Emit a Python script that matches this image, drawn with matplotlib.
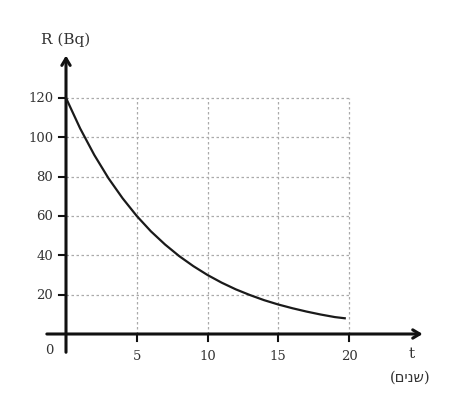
import matplotlib.pyplot as plt
import numpy as np

# valores (decaimento, meia-vida ~5 anos)
t_anos = [0, 1, 2, 3, 4, 5, 6, 7, 8, 9, 10, 11, 12, 13, 14, 15, 16, 17, 18, 19, 19.7]
R_bq = [120, 104.5, 91, 79.2, 69, 60, 52.2, 45.5, 39.6, 34.5, 30, 26.1, 22.7, 19.8,
        17.2, 15, 13.1, 11.4, 9.9, 8.6, 8.0]

x_ticks = [5, 10, 15, 20]
y_ticks = [20, 40, 60, 80, 100, 120]

fonte = ['DejaVu Serif', 'DejaVu Sans']
cor_txt = '#333333'

fig = plt.figure(figsize=(4.64, 4.14), dpi=100)
ax = fig.add_axes([0, 0, 1, 1])
px_x = 14.15   # pixels por ano
px_y = 1.967   # pixels por Bq
ax.set_xlim(-66 / px_x, (464 - 66) / px_x)
ax.set_ylim(-(414 - 335) / px_y, 335 / px_y)
ax.axis('off')

# grade pontilhada
for xv in x_ticks:
    ax.plot([xv, xv], [0, 120], color='#aaaaaa', lw=0.9, ls=(0, (2, 2)), zorder=1)
for yv in y_ticks:
    ax.plot([0, 20], [yv, yv], color='#aaaaaa', lw=0.9, ls=(0, (2, 2)), zorder=1)

# eixos com setas
ax.annotate('', xy=(25.4, 0), xytext=(-1.55, 0),
            arrowprops=dict(arrowstyle='->,head_length=0.5,head_width=0.3', lw=2.2, color='#111111'))
ax.annotate('', xy=(0, 143), xytext=(0, -10.7),
            arrowprops=dict(arrowstyle='->,head_length=0.5,head_width=0.3', lw=2.2, color='#111111'))

# marcas e rótulos
for xv in x_ticks:
    ax.plot([xv, xv], [0, -3.5], color='#111111', lw=1.5)
    ax.text(xv, -11, str(xv), ha='center', va='center', fontsize=9.5, family=fonte, color=cor_txt)
for yv in y_ticks:
    ax.plot([0, -0.5], [yv, yv], color='#111111', lw=1.5)
    ax.text(-0.9, yv, str(yv), ha='right', va='center', fontsize=9.5, family=fonte, color=cor_txt)
ax.text(-1.2, -7.8, '0', ha='center', va='center', fontsize=9.5, family=fonte, color=cor_txt)

# curva
ax.plot(t_anos, R_bq, color='#1a1a1a', lw=1.6, zorder=3)

ax.text(24.4, -9.5, 't', ha='center', va='center', fontsize=11, family=fonte, color=cor_txt)
ax.text(24.3, -21.5, '(םינש)', ha='center', va='center', fontsize=10.5, family=fonte, color=cor_txt)
ax.text(0, 150, 'R (Bq)', ha='center', va='center', fontsize=11, family=fonte, color=cor_txt)

plt.savefig('out.png', dpi=100)
